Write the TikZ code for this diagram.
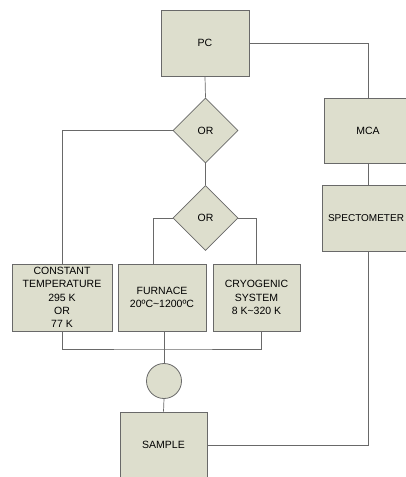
\documentclass[tikz,border=0pt]{standalone}
\usepackage{fontspec}
\setmainfont{Liberation Sans}
\definecolor{boxfill}{RGB}{221,222,205}
\definecolor{boxline}{RGB}{105,105,105}
\usetikzlibrary{shapes.geometric}

\begin{document}
\begin{tikzpicture}[x=1pt, y=-1pt,
  unit/.style={draw=boxline, fill=boxfill, line width=0.8pt, minimum width=88pt, minimum height=66pt, align=center, inner sep=1pt, font=\fontsize{10.5}{13.3}\selectfont},
  gate/.style={draw=boxline, fill=boxfill, line width=0.8pt, diamond, aspect=1, minimum width=65pt, minimum height=65pt, inner sep=0pt, font=\fontsize{10.5}{13.3}\selectfont},
  wire/.style={draw=boxline, line width=0.7pt}]
  \fill[white] (0,0) rectangle (405,477);
  \useasboundingbox (0,0) rectangle (405,477);

  %--- control chain ---
  \node[unit] (pc) at (205,43) {PC};
  \node[gate] (or1) at (205.5,130.5) {OR};
  \node[gate] (or2) at (205.5,218) {OR};

  %--- detector chain ---
  \node[unit, minimum height=65pt] (mca) at (368,130.5) {MCA};
  \node[unit, font=\fontsize{10}{13}\selectfont] (spec) at (366,218) {SPECTOMETER};

  %--- temperature units ---
  \node[unit, minimum width=100pt, minimum height=67pt] (const) at (62,297.5) {CONSTANT\\TEMPERATURE\\295 K\\OR\\77 K};
  \node[unit, minimum height=67pt] (furn) at (162,297.5) {FURNACE\\20ºC\textasciitilde1200ºC};
  \node[unit, minimum width=87pt, minimum height=67pt] (cryo) at (256.5,297.5) {CRYOGENIC\\SYSTEM\\8 K\textasciitilde320 K};

  %--- sample side ---
  \node[draw=boxline, fill=boxfill, line width=0.8pt, circle, minimum size=35pt, inner sep=0pt] (ring) at (164,381) {};
  \node[unit, minimum width=87pt] (sample) at (163.5,445) {SAMPLE};
  \coordinate (bus) at (164,349);

  \draw[wire] (pc.east) -| (mca.north);
  \draw[wire] (pc.south) -- (or1.north);
  \draw[wire] (or1.south) -- (or2.north);
  \draw[wire] (or1.west) -| (const.north);
  \draw[wire] (or2.west) -| ([xshift=-9pt]furn.north);
  \draw[wire] (or2.east) -| (cryo.north);
  \draw[wire] (mca.south) -- ([xshift=2pt]spec.north);
  \draw[wire] (const.south) |- (bus) -| ([xshift=5pt]cryo.south);
  \draw[wire] ([xshift=2pt]furn.south) -- (ring.north);
  \draw[wire] (ring.south) -- (sample.north);
  \draw[wire] (sample.east) -| ([xshift=2pt]spec.south);
\end{tikzpicture}
\end{document}
